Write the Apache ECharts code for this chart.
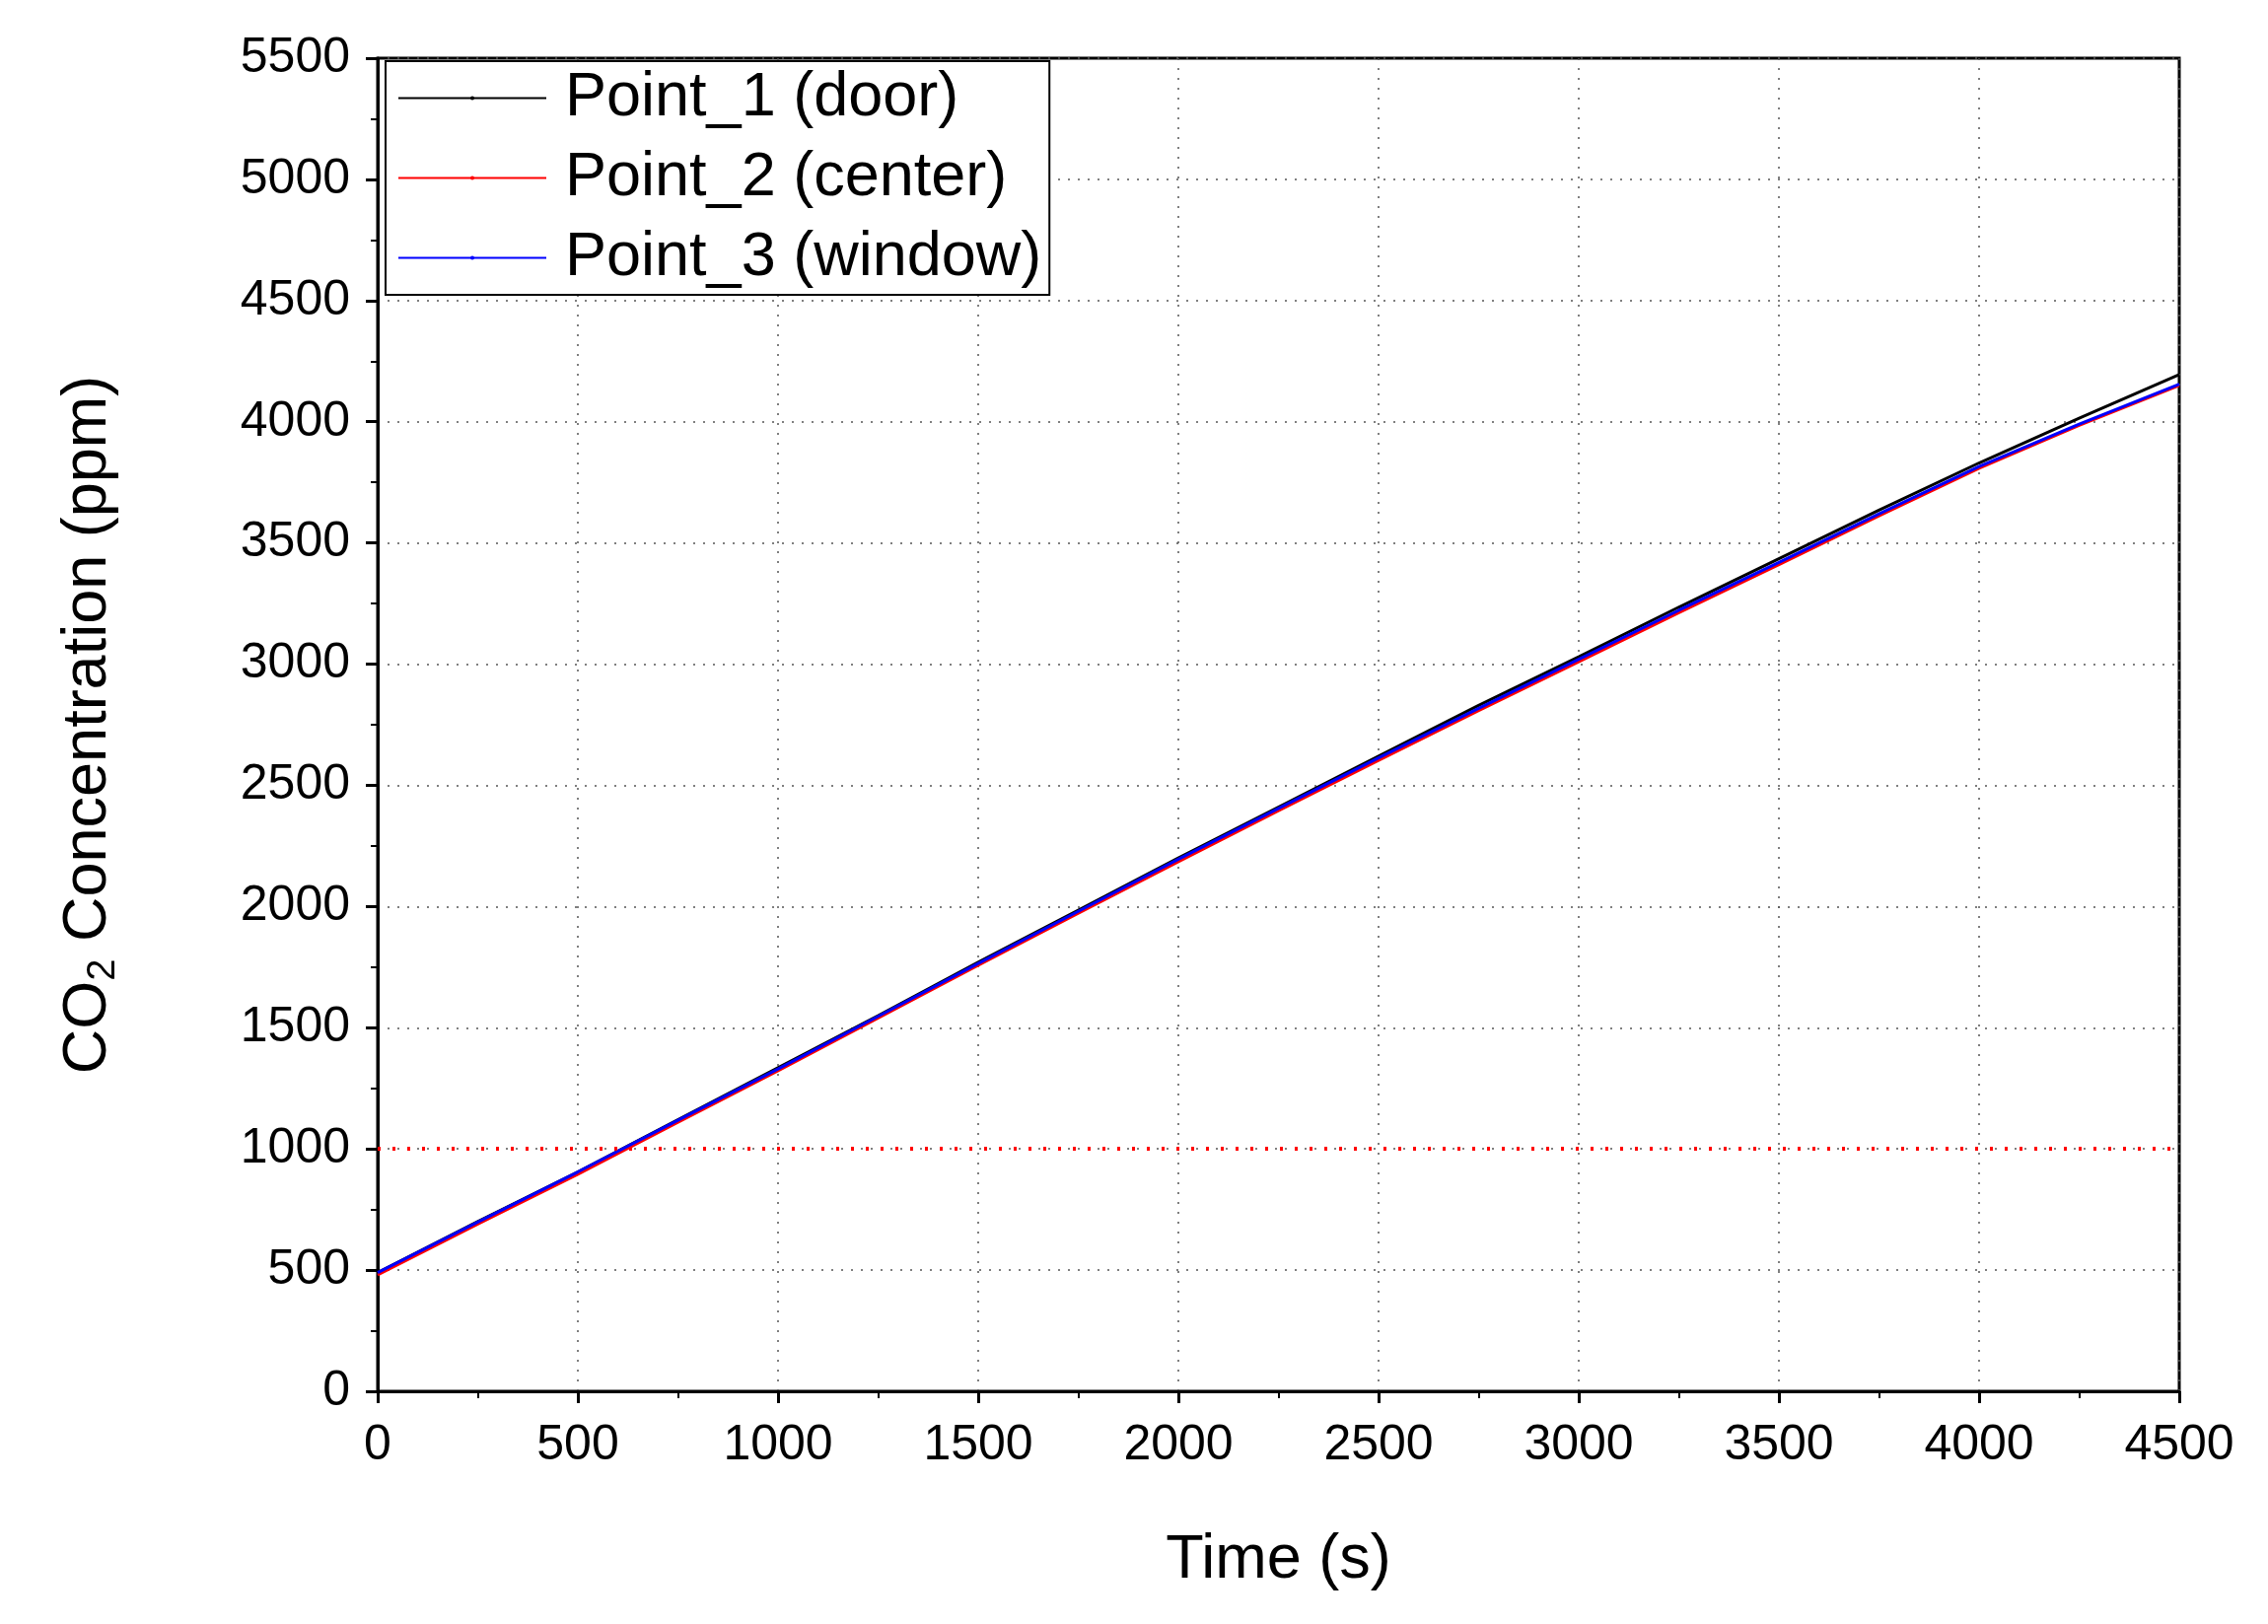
<!DOCTYPE html>
<html>
<head>
<meta charset="utf-8">
<script src="https://cdn.jsdelivr.net/npm/echarts@6/dist/echarts.min.js"></script>
<style>html,body{margin:0;padding:0;background:#fff}#chart{width:2300px;height:1647px}</style>
</head>
<body>
<div id="chart"></div>
<script>
// 时间 (s)
var times = [0, 250, 500, 750, 1000, 1250, 1500, 1750, 2000, 2250, 2500, 2750, 3000, 3250, 3500, 3750, 4000, 4250, 4500];
// 各测点CO2浓度
var point1 = [490, 700, 905, 1120, 1335, 1550, 1770, 1985, 2200, 2410, 2620, 2830, 3030, 3235, 3435, 3635, 3830, 4015, 4195];
var point2 = [480, 690, 895, 1110, 1322, 1540, 1758, 1972, 2185, 2395, 2603, 2808, 3010, 3212, 3410, 3612, 3808, 3985, 4150];
var point3 = [490, 698, 905, 1118, 1330, 1547, 1765, 1980, 2195, 2405, 2613, 2818, 3020, 3222, 3420, 3620, 3815, 3990, 4155];
var limitLine = 1000;

function pairs(arr) {
    return times.map(function (t, i) { return [t, arr[i]]; });
}
function plain(v) { return String(v); }

var chart = echarts.init(document.getElementById('chart'));
var font = 'Liberation Sans';
var dotted = {show: true, lineStyle: {color: '#555', type: [2, 8], width: 1.5}};
var option = {
    backgroundColor: '#fff',
    textStyle: {fontFamily: font},
    grid: {left: 383, right: 90, top: 59, bottom: 236, show: true, borderColor: '#000', borderWidth: 3},
    legend: {
        orient: 'vertical', left: 391, top: 62,
        backgroundColor: '#fff', borderColor: '#000', borderWidth: 2,
        padding: [6, 8, 6, 12], itemGap: 18, itemWidth: 150, itemHeight: 5,
        textStyle: {fontSize: 63, color: '#000', fontFamily: font, padding: [0, 0, 0, 14]},
        data: ['Point_1 (door)', 'Point_2 (center)', 'Point_3 (window)']
    },
    xAxis: {
        type: 'value', min: 0, max: 4500, interval: 500,
        name: 'Time (s)', nameLocation: 'middle', nameGap: 140,
        nameTextStyle: {fontSize: 63, color: '#000', fontFamily: font},
        axisLine: {lineStyle: {color: '#000', width: 3}},
        axisTick: {show: true, length: 12, lineStyle: {width: 3, color: '#000'}},
        minorTick: {show: true, splitNumber: 2, length: 7, lineStyle: {width: 2, color: '#000'}},
        axisLabel: {fontSize: 50, color: '#000', margin: 30, fontFamily: font, formatter: plain},
        splitLine: dotted
    },
    yAxis: {
        type: 'value', min: 0, max: 5500, interval: 500,
        name: 'CO{sub|2} Concentration (ppm)', nameLocation: 'middle', nameGap: 258, nameRotate: 90,
        nameTextStyle: {fontSize: 63, color: '#000', fontFamily: font,
            rich: {sub: {fontSize: 40, verticalAlign: 'bottom', padding: [30, 0, 0, 0], fontFamily: font}}},
        axisLine: {show: true, lineStyle: {color: '#000', width: 3}},
        axisTick: {show: true, length: 12, lineStyle: {width: 3, color: '#000'}},
        minorTick: {show: true, splitNumber: 2, length: 7, lineStyle: {width: 2, color: '#000'}},
        axisLabel: {fontSize: 50, color: '#000', margin: 28, fontFamily: font, formatter: plain},
        splitLine: dotted
    },
    series: [
        {name: 'Point_1 (door)', type: 'line', symbol: 'none', data: pairs(point1),
            lineStyle: {color: '#000', width: 3}, itemStyle: {color: '#000'}},
        {name: 'Point_2 (center)', type: 'line', symbol: 'none', data: pairs(point2),
            lineStyle: {color: '#f00', width: 3}, itemStyle: {color: '#f00'},
            markLine: {silent: true, symbol: 'none', label: {show: false},
                lineStyle: {color: '#f00', type: [3, 12], width: 4},
                data: [{yAxis: limitLine}]}},
        {name: 'Point_3 (window)', type: 'line', symbol: 'none', data: pairs(point3),
            lineStyle: {color: '#00f', width: 3}, itemStyle: {color: '#00f'}}
    ]
};
chart.setOption(option);
</script>
</body>
</html>
